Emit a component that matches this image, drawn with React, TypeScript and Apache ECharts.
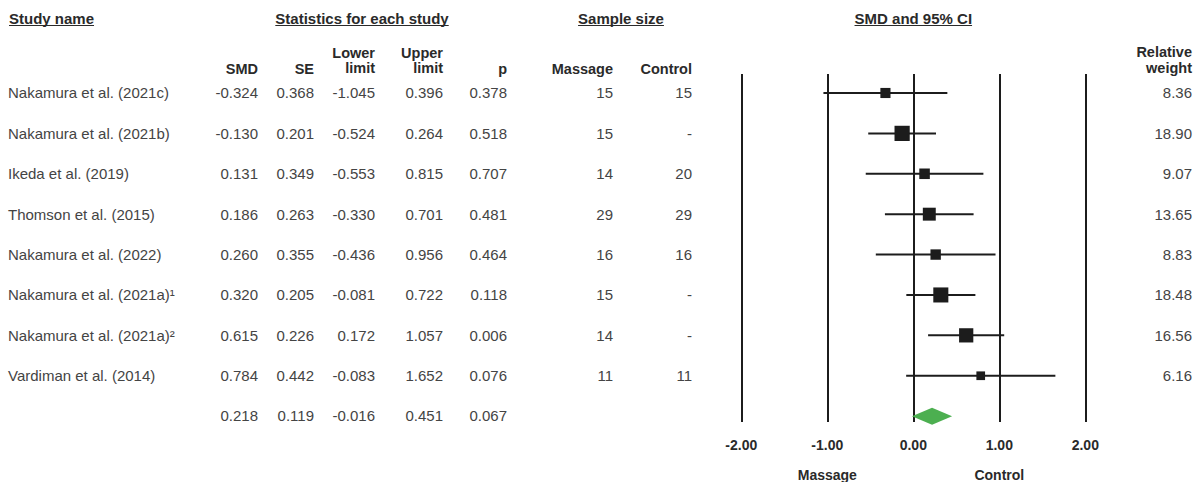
import React, { useEffect, useRef } from "react";
import * as echarts from "echarts";

// Study-level data
const studies = [
  "Nakamura et al. (2021c)",
  "Nakamura et al. (2021b)",
  "Ikeda et al. (2019)",
  "Thomson et al. (2015)",
  "Nakamura et al. (2022)",
  "Nakamura et al. (2021a)\u00b9",
  "Nakamura et al. (2021a)\u00b2",
  "Vardiman et al. (2014)",
];
const smd = [-0.324, -0.13, 0.131, 0.186, 0.26, 0.32, 0.615, 0.784];
const se = [0.368, 0.201, 0.349, 0.263, 0.355, 0.205, 0.226, 0.442];
const lowerLimit = [-1.045, -0.524, -0.553, -0.33, -0.436, -0.081, 0.172, -0.083];
const upperLimit = [0.396, 0.264, 0.815, 0.701, 0.956, 0.722, 1.057, 1.652];
const pValues = [0.378, 0.518, 0.707, 0.481, 0.464, 0.118, 0.006, 0.076];
const massageN = ["15", "15", "14", "29", "16", "15", "14", "11"];
const controlN = ["15", "-", "20", "29", "16", "-", "-", "11"];
const relWeight = [8.36, 18.9, 9.07, 13.65, 8.83, 18.48, 16.56, 6.16];

// Pooled estimate: SMD, SE, lower, upper, p
const pooled = [0.218, 0.119, -0.016, 0.451, 0.067];

const xTicks = [-2, -1, 0, 1, 2];

const FONT = "'Liberation Sans', Arial, Helvetica, sans-serif";
const DATA_COLOR = "#444";
const HEAD_COLOR = "#2a2a2a";

// Right edges of the numeric table columns
const colRight = [258, 314, 375, 443, 507, 613, 692];
const weightRight = 1192;

function measure(text: string, font: string): number {
  const c = document.createElement("canvas").getContext("2d");
  if (!c) return text.length * 8;
  c.font = font;
  return c.measureText(text).width;
}

export default function App() {
  const ref = useRef<HTMLDivElement>(null);

  useEffect(() => {
    document.body.style.margin = "0";
    if (!ref.current) return;
    const chart = echarts.init(ref.current, null, { renderer: "svg" });

    const gridLeft = 741.3;
    const gridWidth = 344;
    const gridTop = 74;
    const gridBottom = 60;

    const ciData = studies.map((_, i) => [lowerLimit[i], upperLimit[i], i]);
    const pointData = studies.map((_, i) => [smd[i], i, relWeight[i]]);
    const diamondData = [[pooled[2], pooled[0], pooled[3], studies.length]];

    chart.setOption({
      animation: false,
      grid: {
        left: gridLeft,
        width: gridWidth,
        top: gridTop,
        bottom: gridBottom,
        containLabel: false,
      },
      xAxis: {
        type: "value",
        min: xTicks[0],
        max: xTicks[xTicks.length - 1],
        interval: 1,
        axisLine: { show: false },
        axisTick: { show: false },
        splitLine: { show: true, lineStyle: { color: "#1c1c1c", width: 2 } },
        axisLabel: {
          formatter: (v: number) => v.toFixed(2),
          fontFamily: FONT,
          fontWeight: "bold",
          fontSize: 14,
          color: HEAD_COLOR,
          margin: 16,
        },
      },
      yAxis: {
        type: "value",
        inverse: true,
        min: -0.47,
        max: 8.145,
        show: false,
        splitLine: { show: false },
      },
      series: [
        {
          type: "custom",
          data: ciData,
          renderItem: (params: any, api: any) => {
            const a = api.coord([api.value(0), api.value(2)]);
            const b = api.coord([api.value(1), api.value(2)]);
            return {
              type: "line",
              shape: { x1: a[0], y1: a[1], x2: b[0], y2: b[1] },
              style: { stroke: "#1c1c1c", lineWidth: 2 },
            };
          },
          z: 3,
        },
        {
          type: "scatter",
          data: pointData,
          symbol: "rect",
          symbolSize: (val: number[]) => 3.5 * Math.sqrt(val[2]),
          itemStyle: { color: "#1c1c1c", opacity: 1 },
          z: 4,
        },
        {
          type: "custom",
          data: diamondData,
          renderItem: (params: any, api: any) => {
            const row = api.value(3);
            const l = api.coord([api.value(0), row]);
            const c = api.coord([api.value(1), row]);
            const r = api.coord([api.value(2), row]);
            const h = 8.5;
            return {
              type: "polygon",
              shape: {
                points: [
                  [l[0], l[1]],
                  [c[0], c[1] - h],
                  [r[0], r[1]],
                  [c[0], c[1] + h],
                ],
              },
              style: { fill: "#4caf50", stroke: "none" },
            };
          },
          z: 5,
        },
      ],
    });

    const rowY = (i: number) => chart.convertToPixel({ yAxisIndex: 0 }, i) as number;
    const xPix = (v: number) => chart.convertToPixel({ xAxisIndex: 0 }, v) as number;

    const dataFont = `15px ${FONT}`;
    const els: any[] = [];
    const txt = (
      text: string,
      x: number,
      y: number,
      align: string,
      bold = false,
      size = 15,
      color = DATA_COLOR
    ) => {
      els.push({
        type: "text",
        x,
        y,
        silent: true,
        style: {
          text,
          fill: color,
          font: `${bold ? "bold " : ""}${size}px ${FONT}`,
          align,
          verticalAlign: "middle",
        },
      });
    };

    // Top headers, underlined
    const topHeaders: [string, number, string][] = [
      ["Study name", 9, "left"],
      ["Statistics for each study", 362, "center"],
      ["Sample size", 621, "center"],
      ["SMD and 95% CI", xPix(0), "center"],
    ];
    topHeaders.forEach(([t, x, align]) => {
      txt(t, x, 18, align, true, 15, HEAD_COLOR);
      const w = measure(t, `bold 15px ${FONT}`);
      const x1 = align === "left" ? x : x - w / 2;
      els.push({
        type: "line",
        silent: true,
        shape: { x1, y1: 25.5, x2: x1 + w, y2: 25.5 },
        style: { stroke: HEAD_COLOR, lineWidth: 1.2 },
      });
    });

    // Column headers
    const hs = 14.5;
    txt("SMD", colRight[0], 69, "right", true, hs, HEAD_COLOR);
    txt("SE", colRight[1], 69, "right", true, hs, HEAD_COLOR);
    txt("Lower", colRight[2], 53, "right", true, hs, HEAD_COLOR);
    txt("limit", colRight[2], 68, "right", true, hs, HEAD_COLOR);
    txt("Upper", colRight[3], 53, "right", true, hs, HEAD_COLOR);
    txt("limit", colRight[3], 68, "right", true, hs, HEAD_COLOR);
    txt("p", colRight[4], 69, "right", true, hs, HEAD_COLOR);
    txt("Massage", colRight[5], 69, "right", true, hs, HEAD_COLOR);
    txt("Control", colRight[6], 69, "right", true, hs, HEAD_COLOR);
    txt("Relative", weightRight, 52, "right", true, hs, HEAD_COLOR);
    txt("weight", weightRight, 68, "right", true, hs, HEAD_COLOR);

    // Study rows
    studies.forEach((name, i) => {
      const y = rowY(i);
      txt(name, 8, y, "left");
      const vals = [smd[i], se[i], lowerLimit[i], upperLimit[i], pValues[i]].map((v) =>
        v.toFixed(3)
      );
      vals.forEach((v, k) => txt(v, colRight[k], y, "right"));
      txt(massageN[i], colRight[5], y, "right");
      txt(controlN[i], colRight[6], y, "right");
      txt(relWeight[i].toFixed(2), weightRight, y, "right");
    });

    // Pooled row
    const py = rowY(studies.length) - 1;
    pooled.forEach((v, k) => txt(v.toFixed(3), colRight[k], py, "right"));

    // Direction labels under the axis
    txt("Massage", xPix(-1), 475, "center", true, 14, HEAD_COLOR);
    txt("Control", xPix(1), 475, "center", true, 14, HEAD_COLOR);

    void dataFont;
    chart.setOption({ graphic: { elements: els } });

    return () => chart.dispose();
  }, []);

  return <div ref={ref} style={{ width: 1201, height: 482 }} />;
}
